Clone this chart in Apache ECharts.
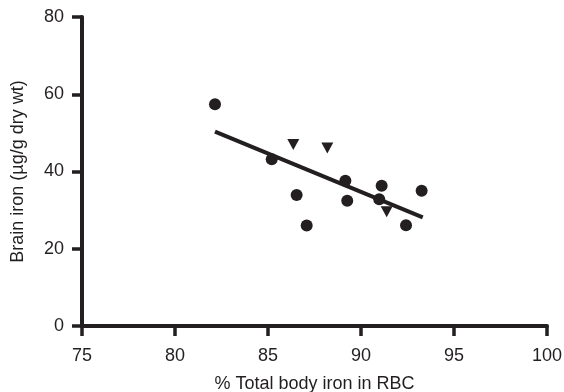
<!DOCTYPE html>
<html><head><meta charset="utf-8">
<script src="https://cdn.jsdelivr.net/npm/echarts@6/dist/echarts.min.js"></script>
<style>html,body{margin:0;padding:0;background:#fff}#c{width:564px;height:392px}</style>
</head><body><div id="c"></div>
<script>
const xTicks = [75, 80, 85, 90, 95, 100];
const yTicks = [0, 20, 40, 60, 80];
const circleX = [82.15, 85.2, 86.54, 87.08, 89.16, 89.26, 91.11, 90.98, 92.42, 93.26];
const circleY = [57.4, 43.2, 33.9, 26.0, 37.6, 32.4, 36.3, 32.8, 26.1, 35.0];
const triangleX = [86.36, 88.19, 91.38];
const triangleY = [47.0, 46.1, 29.6];
const fitX = [82.15, 93.32];
const fitY = [50.3, 28.1];

const zip = (a, b) => a.map((v, i) => [v, b[i]]);
const txt = '#231f20';
const font = 'Liberation Sans';
const chart = echarts.init(document.getElementById('c'), null, {renderer: 'canvas'});
chart.setOption({
  animation: false,
  grid: {left: 82, right: 17, top: 17, bottom: 66, containLabel: false, outerBoundsMode: 'none'},
  xAxis: {
    type: 'value', min: 75, max: 100, interval: 5,
    name: '% Total body iron in RBC', nameLocation: 'middle', nameGap: 49,
    nameTextStyle: {color: txt, fontSize: 18, fontFamily: font},
    axisLine: {onZero: false, lineStyle: {color: txt, width: 4}},
    axisTick: {length: 10, lineStyle: {color: txt, width: 3.5}},
    axisLabel: {color: txt, fontSize: 18, fontFamily: font, margin: 21},
    splitLine: {show: false}
  },
  yAxis: {
    type: 'value', min: 0, max: 80, interval: 20,
    name: 'Brain iron (µg/g dry wt)', nameLocation: 'middle', nameGap: 55, nameRotate: 90,
    nameTextStyle: {color: txt, fontSize: 18, fontFamily: font},
    axisLine: {show: true, onZero: false, lineStyle: {color: txt, width: 4}},
    axisTick: {show: true, length: 10, lineStyle: {color: txt, width: 3.5}},
    axisLabel: {color: txt, fontSize: 18, fontFamily: font, margin: 18},
    splitLine: {show: false}
  },
  series: [
    {type: 'line', data: zip(fitX, fitY), symbol: 'none', lineStyle: {color: txt, width: 4}, z: 2},
    {type: 'scatter', data: zip(circleX, circleY), symbol: 'circle', symbolSize: 12, itemStyle: {color: txt, opacity: 1}, z: 3},
    {type: 'scatter', data: zip(triangleX, triangleY), symbol: 'triangle', symbolRotate: 180, symbolSize: [12, 11], itemStyle: {color: txt, opacity: 1}, z: 3}
  ]
});
</script></body></html>
